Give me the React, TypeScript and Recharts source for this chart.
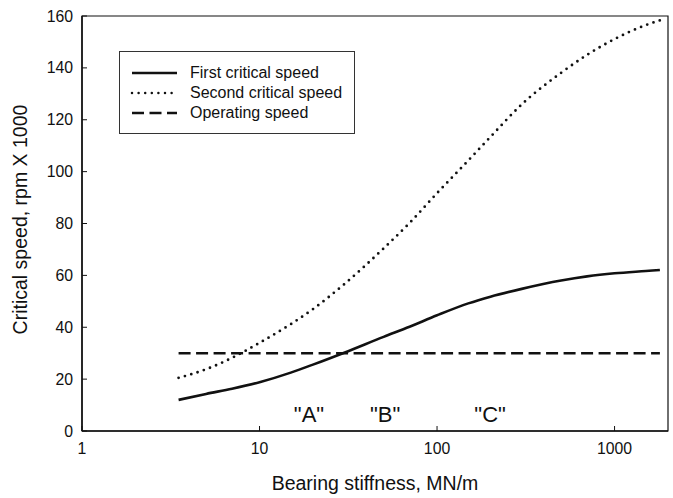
import {
  LineChart,
  Line,
  XAxis,
  YAxis,
  Legend,
  Label,
  ReferenceArea,
  ReferenceDot,
} from "recharts";

// bearing stiffness, MN/m
const stiffness = [3.5, 5, 7, 10, 15, 20, 30, 50, 70, 100, 150, 200, 300, 500, 700, 1000, 1500, 1800];
// rpm x 1000
const firstCritical = [12, 14.3, 16.3, 18.8, 22.5, 25.6, 30.2, 36.3, 40.2, 44.6, 49.2, 51.8, 54.8, 58, 59.6, 60.8, 61.7, 62.1];
const secondCritical = [20.5, 23.8, 28.2, 34, 41.2, 47, 56.6, 70.4, 80.2, 91.7, 104.3, 113.4, 125.9, 138.1, 145, 151.1, 156.5, 158.3];
const operatingSpeed = [30, 30, 30, 30, 30, 30, 30, 30, 30, 30, 30, 30, 30, 30, 30, 30, 30, 30];

const xTicks = [1, 10, 100, 1000];
const yTicks = [0, 20, 40, 60, 80, 100, 120, 140, 160];
const xDomain = [1, 2000];
const yDomain = [0, 160];

const zoneNames = ['"A"', '"B"', '"C"'];
const zoneX = [19, 51, 199];
const zoneY = [6.5, 6.5, 6.5];

const legendLabels = ["First critical speed", "Second critical speed", "Operating speed"];

const data = stiffness.map((k, i) => ({
  k,
  first: firstCritical[i],
  second: secondCritical[i],
  operating: operatingSpeed[i],
}));

const FONT = '"Liberation Sans", Arial, Helvetica, sans-serif';
const INK = "#111";

const lineStyles = [
  { strokeDasharray: undefined, strokeLinecap: "butt" as const },
  { strokeDasharray: "0 6.6", strokeLinecap: "round" as const },
  { strokeDasharray: "12 5.5", strokeLinecap: "butt" as const },
];

const LegendBox = () => (
  <div
    style={{
      width: 236,
      height: 83,
      boxSizing: "border-box",
      border: "1px solid #333",
      background: "#fff",
      position: "relative",
      fontFamily: FONT,
      fontSize: 16,
      color: INK,
    }}
  >
    {legendLabels.map((label, i) => (
      <div
        key={label}
        style={{
          position: "absolute",
          left: 0,
          top: 11 + 20 * i,
          height: 20,
          display: "flex",
          alignItems: "center",
          whiteSpace: "nowrap",
        }}
      >
        <svg width={60} height={20} style={{ marginLeft: 10 }}>
          <line
            x1={2}
            x2={47}
            y1={10}
            y2={10}
            stroke={INK}
            strokeWidth={2.5}
            strokeDasharray={lineStyles[i].strokeDasharray}
            strokeLinecap={lineStyles[i].strokeLinecap}
          />
        </svg>
        <span>{label}</span>
      </div>
    ))}
  </div>
);

export default function App() {
  return (
    <div style={{ position: "absolute", left: 0, top: 0, background: "#fff" }}>
      <LineChart
        width={673}
        height={498}
        data={data}
        margin={{ top: 16, right: 5, left: 0, bottom: 7 }}
        style={{ fontFamily: FONT }}
      >
        <XAxis
          dataKey="k"
          type="number"
          scale="log"
          domain={xDomain}
          ticks={xTicks}
          allowDataOverflow
          height={60}
          tickSize={-5}
          tickMargin={17}
          tick={{ fontSize: 15.8, fill: INK }}
          stroke={INK}
          axisLine={{ stroke: INK, strokeWidth: 1.5 }}
        >
          <Label
            content={({ viewBox }: any) => (
              <text
                x={viewBox.x + viewBox.width / 2}
                y={viewBox.y + 59}
                textAnchor="middle"
                fontSize={19.5}
                fill={INK}
                fontFamily={FONT}
              >
                Bearing stiffness, MN/m
              </text>
            )}
          />
        </XAxis>
        <YAxis
          type="number"
          domain={yDomain}
          ticks={yTicks}
          width={82}
          tickSize={-5}
          tickMargin={14}
          tick={{ fontSize: 15.8, fill: INK }}
          stroke={INK}
          axisLine={{ stroke: INK, strokeWidth: 1.5 }}
        >
          <Label
            content={({ viewBox }: any) => {
              const cx = 27;
              const cy = viewBox.y + viewBox.height / 2 - 4;
              return (
                <text
                  x={cx}
                  y={cy}
                  transform={`rotate(-90, ${cx}, ${cy})`}
                  textAnchor="middle"
                  fontSize={19.5}
                  fill={INK}
                  fontFamily={FONT}
                >
                  Critical speed, rpm X 1000
                </text>
              );
            }}
          />
        </YAxis>
        <ReferenceArea
          x1={xDomain[0]}
          x2={xDomain[1]}
          y1={yDomain[0]}
          y2={yDomain[1]}
          fill="none"
          stroke={INK}
          strokeWidth={1.2}
          ifOverflow="visible"
        />
        <Line
          dataKey="first"
          type="monotone"
          stroke={INK}
          strokeWidth={2.6}
          dot={false}
          activeDot={false}
          isAnimationActive={false}
        />
        <Line
          dataKey="second"
          type="monotone"
          stroke={INK}
          strokeWidth={2.8}
          strokeDasharray={lineStyles[1].strokeDasharray}
          strokeLinecap="round"
          dot={false}
          activeDot={false}
          isAnimationActive={false}
        />
        <Line
          dataKey="operating"
          type="linear"
          stroke={INK}
          strokeWidth={2.6}
          strokeDasharray={lineStyles[2].strokeDasharray}
          dot={false}
          activeDot={false}
          isAnimationActive={false}
        />
        {zoneNames.map((name, i) => (
          <ReferenceDot
            key={name}
            x={zoneX[i]}
            y={zoneY[i]}
            r={0}
            fill="none"
            stroke="none"
            label={{ value: name, position: "center", fontSize: 22, fill: INK, fontFamily: FONT }}
          />
        ))}
        <Legend
          layout="horizontal"
          verticalAlign="middle"
          align="center"
          content={() => <LegendBox />}
          wrapperStyle={{ left: 119, top: 51, width: 236, height: 83 }}
        />
      </LineChart>
    </div>
  );
}
